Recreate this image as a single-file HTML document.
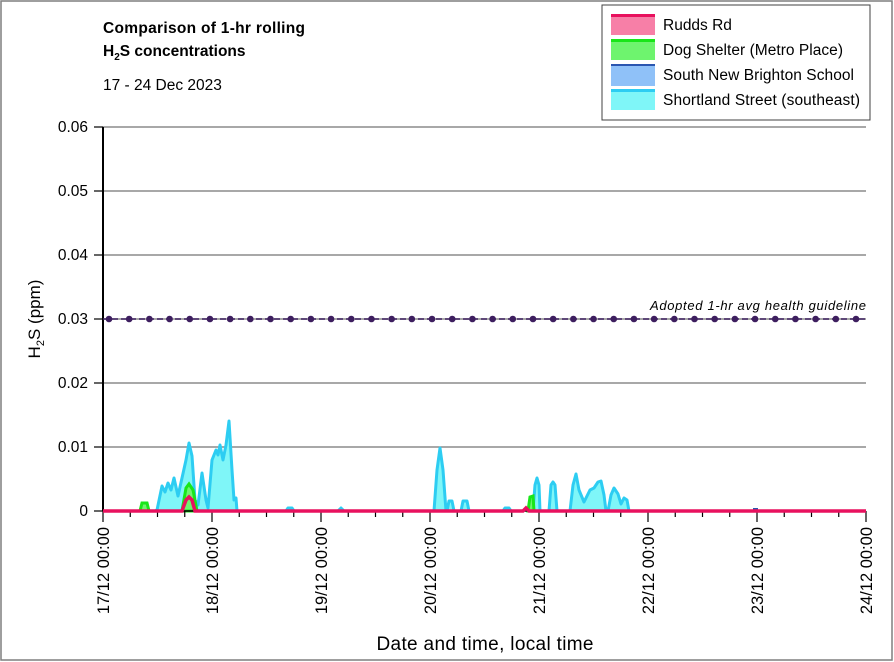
<!DOCTYPE html><html><head><style>body{margin:0;background:#fff}svg{display:block;font-family:"Liberation Sans",Calibri,sans-serif}</style></head><body>
<svg width="894" height="662" viewBox="0 0 894 662" xmlns="http://www.w3.org/2000/svg">
<rect x="1" y="1" width="891" height="659" fill="#fff" stroke="#7f7f7f" stroke-width="1.5"/>
<text x="103" y="33" font-size="15.5" font-weight="bold" textLength="202">Comparison of 1-hr rolling</text>
<text x="103" y="56" font-size="15.5" font-weight="bold">H<tspan font-size="10" dy="4">2</tspan><tspan dy="-4">S concentrations</tspan></text>
<text x="103" y="90" font-size="15.5">17 - 24 Dec 2023</text>
<g stroke="#8c8c8c" stroke-width="1.5">
<line x1="103" y1="127" x2="866" y2="127"/><line x1="103" y1="191" x2="866" y2="191"/><line x1="103" y1="255" x2="866" y2="255"/><line x1="103" y1="319" x2="866" y2="319"/><line x1="103" y1="383" x2="866" y2="383"/><line x1="103" y1="447" x2="866" y2="447"/>
</g>
<g font-size="15.5" text-anchor="end" fill="#000">
<text x="88" y="132">0.06</text><text x="88" y="196">0.05</text><text x="88" y="260">0.04</text><text x="88" y="324">0.03</text><text x="88" y="388">0.02</text><text x="88" y="452">0.01</text><text x="88" y="516">0</text>
</g>
<g stroke="#000" stroke-width="1.2"><line x1="94" y1="127" x2="103" y2="127"/><line x1="94" y1="191" x2="103" y2="191"/><line x1="94" y1="255" x2="103" y2="255"/><line x1="94" y1="319" x2="103" y2="319"/><line x1="94" y1="383" x2="103" y2="383"/><line x1="94" y1="447" x2="103" y2="447"/><line x1="94" y1="511" x2="103" y2="511"/></g>
<text transform="translate(40,319) rotate(-90)" font-size="17" text-anchor="middle">H<tspan font-size="11" dy="4">2</tspan><tspan dy="-4">S (ppm)</tspan></text>
<path d="M155,511 L157,510 L162,486 L165,492 L168,483 L171,490 L174,478 L178,496 L182,478 L186,460 L189,443 L192,456 L195,500 L198,505 L202,473 L206,500 L208,508 L212,460 L216,450 L218,455 L220,445 L223,460 L226,445 L229,421 L232,470 L234,500 L236,498 L237,511 Z" fill="#7ff6f8" stroke="#2dcdf2" stroke-width="3" stroke-linejoin="round"/>
<path d="M434,511 L437,470 L440,448 L443,470 L446,511 M447,511 L449,501 L452,501 L454,511 M461,511 L463,501 L467,501 L469,511 M286,511 L288,508 L292,508 L294,511 M338,511 L341,508 L344,511 M503,511 L505,508 L509,508 L511,511 M533,511 L535,485 L537,478 L539,485 L540,511 M549,511 L551,485 L553,482 L555,485 L557,511 M570,511 L573,485 L576,474 L579,490 L584,502 L590,490 L594,488 L598,482 L601,481 L604,495 L606,511 M608,511 L611,495 L614,488 L618,494 L621,504 L624,498 L627,500 L629,511" fill="#7ff6f8" stroke="#2dcdf2" stroke-width="3" stroke-linejoin="round"/>
<path d="M140,511 L142,503 L147,503 L149,511 Z" fill="#6ef46e" stroke="#19e619" stroke-width="3"/>
<path d="M182,511 L186,488 L189,484 L193,490 L197,511 Z" fill="#6ef46e" stroke="#19e619" stroke-width="3"/>
<path d="M528,511 L530,497 L533,496 L534,511 Z" fill="#6ef46e" stroke="#19e619" stroke-width="3"/>
<line x1="753" y1="509" x2="758" y2="509" stroke="#2a56b0" stroke-width="2"/>
<line x1="103" y1="127" x2="103" y2="511" stroke="#000" stroke-width="2"/>
<line x1="103" y1="511" x2="866" y2="511" stroke="#000" stroke-width="1.5"/>
<g stroke="#000" stroke-width="1.2" id="ticks"></g>
<path d="M103,511 L182,511 L186,500 L189,497 L192,500 L195,511 L523,511 L526,508 L529,511 L866,511" fill="none" stroke="#e8115e" stroke-width="3.5"/>
<line x1="103" y1="319" x2="866" y2="319" stroke="#3d1e5f" stroke-width="1.5" stroke-dasharray="6,3"/>
<g fill="#3d1e5f" id="dots"></g>
<text x="866" y="310" font-size="13" font-style="italic" text-anchor="end" fill="#000" textLength="216">Adopted 1-hr avg health guideline</text>
<g font-size="16.5" fill="#000" id="xl"></g>
<text x="485" y="650" font-size="19" text-anchor="middle" textLength="217">Date and time, local time</text>
<rect x="602" y="5" width="268" height="115" fill="#fff" stroke="#404040" stroke-width="1"/>
<rect x="611" y="15" width="44" height="20" fill="#f77fa7"/><rect x="611" y="14" width="44" height="3" fill="#e8115e"/>
<rect x="611" y="40" width="44" height="20" fill="#6ef46e"/><rect x="611" y="39" width="44" height="3" fill="#19e619"/>
<rect x="611" y="65" width="44" height="21" fill="#8fc1f8"/><rect x="611" y="64" width="44" height="2" fill="#2a56b0"/>
<rect x="611" y="90" width="44" height="20" fill="#7ff6f8"/><rect x="611" y="89" width="44" height="3" fill="#2dcdf2"/>
<g font-size="15.5" fill="#000"><text x="663" y="30">Rudds Rd</text><text x="663" y="55" textLength="180">Dog Shelter (Metro Place)</text><text x="663" y="80" textLength="191">South New Brighton School</text><text x="663" y="105" textLength="197">Shortland Street (southeast)</text></g>
</svg>
<script>
var ns="http://www.w3.org/2000/svg",t=document.getElementById("ticks"),d=document.getElementById("dots"),xl=document.getElementById("xl");
for(var i=0;i<=28;i++){var x=103+i*109/4,l=document.createElementNS(ns,"line");l.setAttribute("x1",x);l.setAttribute("x2",x);l.setAttribute("y1",511);l.setAttribute("y2",i%4==0?522:517);t.appendChild(l);}
for(var i=0;i<38;i++){var c=document.createElementNS(ns,"circle");c.setAttribute("cx",109+i*(856-109)/37);c.setAttribute("cy",319);c.setAttribute("r",3.3);d.appendChild(c);}
var n=["17/12 00:00","18/12 00:00","19/12 00:00","20/12 00:00","21/12 00:00","22/12 00:00","23/12 00:00","24/12 00:00"];
for(var i=0;i<8;i++){var x=103+i*109,e=document.createElementNS(ns,"text");e.setAttribute("transform","translate("+(x+6)+",527) rotate(-90)");e.setAttribute("text-anchor","end");e.textContent=n[i];xl.appendChild(e);}
</script>
</body></html>
